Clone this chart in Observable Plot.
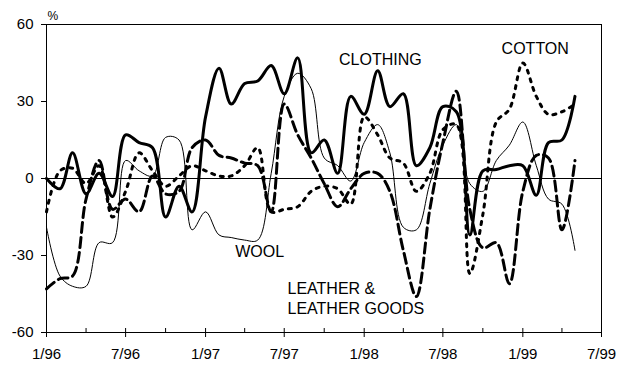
<!DOCTYPE html>
<html><head><meta charset="utf-8">
<script src="https://cdn.jsdelivr.net/npm/d3@7"></script>
<script src="https://cdn.jsdelivr.net/npm/@observablehq/plot@0.6"></script>
<style>html,body{margin:0;padding:0;background:#fff;} #chart svg{display:block;}</style>
</head><body><div id="chart"></div>
<script>
// Monthly series, Jan 1996 .. May 1999 (percent change)
const clothing = [0,-4,10,-6,2,-7,17,14,12,-15,-3,-13,24,43,29,37,38,44,33,47,10,15,2,32,25,42,28,33,5,12,28,26,-22,3,3.5,5,5,-6.5,14,15,32];
const cotton   = [-13,3,4,-2,5,-15,-5,10,3,-3,1,5,3,1,1,5,12,-13,-12,-11,-5,-3,-4,-10,24,17,8,6,-5,2,19,21,-37,-14,22,27,45,32,25,26,29];
const wool     = [-19,-38,-42,-42,-25,-25,7,3,1,16,15,-20,-13,-22,-23,-24,-24,2,32,41,35,8,5,-1,14,21,10,-19,-20,-2,13,21,-2,-5,7,13,22,5,-8,-10,-28];
const leather  = [-43,-39,-38,-8,7,-12,-8,-13,1,-6,-5,12,15,9,8,6,5,-13,29,17,8,-2,-11,-4,2,2,-5,-28,-46,-12,14,34,-12,-27,-25,-41,-5,9,8,-20,7];

const seriesNames = ["CLOTHING", "COTTON", "WOOL", "LEATHER"];
const xTickLabels = ["1/96","7/96","1/97","7/97","1/98","7/98","1/99","7/99"];
const yTicks = [-60,-30,0,30,60];

// label annotations: month offset from Jan 1996, value
const labels = [
  {text: "CLOTHING", month: 22.1, value: 46.4},
  {text: "COTTON", month: 34.4, value: 50.5},
  {text: "WOOL", month: 14.3, value: -28.4},
  {text: "LEATHER &", month: 18.25, value: -42.9},
  {text: "LEATHER GOODS", month: 18.25, value: -50.8}
];

const monthDate = m => new Date(Date.UTC(1996, Math.floor(m), 1) + (m % 1) * 30.4 * 864e5);
const parseTick = s => { const [mm, yy] = s.split("/").map(Number); return new Date(Date.UTC(1900 + yy, mm - 1, 1)); };
const tickDates = xTickLabels.map(parseTick);
const fmt = d => xTickLabels[tickDates.findIndex(t => +t === +d)];
const quarterDates = d3.utcMonth.every(3).range(tickDates[0], new Date(+tickDates[tickDates.length-1] + 1));

const table = [];
[clothing, cotton, wool, leather].forEach((arr, k) => arr.forEach((v, i) => table.push({series: seriesNames[k], date: monthDate(i), value: v})));
const sel = name => table.filter(d => d.series === name);

const W = 627, H = 379, mt = 24, mb = 47, ml = 46, mr = 26;
const plotH = H - mt - mb;

const chart = Plot.plot({
  width: W, height: H,
  marginTop: mt, marginBottom: mb, marginLeft: ml, marginRight: mr,
  style: {fontFamily: "'Liberation Sans', Arial, sans-serif", fontSize: "15px", background: "white", color: "black"},
  x: {type: "utc", domain: [tickDates[0], tickDates[tickDates.length-1]]},
  y: {domain: [yTicks[0], yTicks[yTicks.length-1]]},
  marks: [
    Plot.ruleY([0], {stroke: "black", strokeWidth: 1}),
    Plot.line(sel("WOOL"), {x: "date", y: "value", stroke: "black", strokeWidth: 1, curve: "catmull-rom"}),
    Plot.line(sel("LEATHER"), {x: "date", y: "value", stroke: "black", strokeWidth: 3, strokeDasharray: "10,5", curve: "catmull-rom"}),
    Plot.line(sel("COTTON"), {x: "date", y: "value", stroke: "black", strokeWidth: 3, strokeDasharray: "3,6", curve: "catmull-rom"}),
    Plot.line(sel("CLOTHING"), {x: "date", y: "value", stroke: "black", strokeWidth: 3, curve: "catmull-rom"}),
    Plot.frame({stroke: "black", strokeWidth: 1}),
    Plot.axisY({ticks: yTicks, tickSize: 5, tickPadding: 8, tickFormat: d => String(d), fontSize: 15, label: null, stroke: "black"}),
    Plot.axisX({ticks: tickDates, tickSize: 5, tickPadding: 11, tickFormat: fmt, fontSize: 15, label: null, stroke: "black"}),
    Plot.ruleX(quarterDates, {stroke: "black", strokeWidth: 1, insetTop: plotH - 4}),
    Plot.text(labels, {x: d => monthDate(d.month), y: "value", text: "text", textAnchor: "start", fontSize: 16, fill: "black"}),
    Plot.text(["%"], {frameAnchor: "top-left", text: d => d, dy: -13, dx: 1, textAnchor: "start", fontSize: 12, fill: "black"})
  ]
});
document.getElementById("chart").appendChild(chart);
</script>
</body></html>
